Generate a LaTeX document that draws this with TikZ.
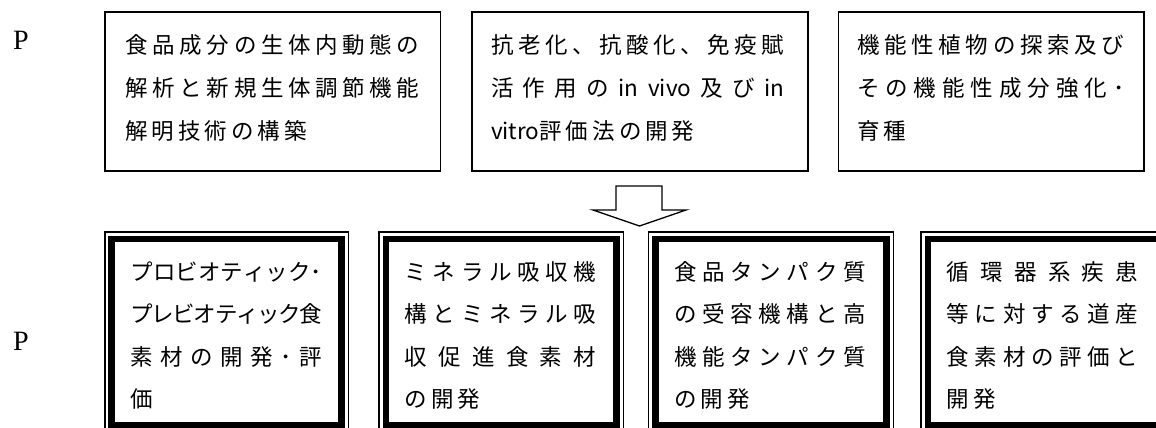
\documentclass[tikz,border=0pt]{standalone}
\usepackage{fontspec}
\setmainfont{Liberation Serif}
\newfontfamily\jpfont{Noto Sans CJK JP}
\usetikzlibrary{calc}
\makeatletter
\def\spr@endmark{\relax}
\newcommand\spreadit[1]{#1\spr@next}
\def\spr@next#1{\def\spr@tmp{#1}\ifx\spr@tmp\spr@endmark\else\sprglue#1\expandafter\spr@next\fi}
\newcommand\JL[2]{\makebox[#1pt][s]{\def\sprglue{\hskip 0pt plus 1fil minus 2pt}\spreadit#2\relax}\par}
\newcommand\NL[1]{\mbox{\def\sprglue{\hskip 4pt}\spreadit#1\relax}\par}
\makeatother
\begin{document}
\begin{tikzpicture}[x=1pt,y=-1pt,
  topbox/.style={draw, line width=1.6pt, inner sep=0pt, outer sep=0pt, anchor=north west, minimum height=159.2pt},
  botbox/.style={draw, line width=1.5pt, inner sep=0pt, outer sep=0pt, anchor=north west, minimum height=200pt},
  thickframe/.style={line width=6.8pt},
  toptext/.style={inner sep=0pt, anchor=base west, font=\jpfont\fontsize{22.5}{43.3}\selectfont},
  bottext/.style={inner sep=0pt, anchor=base west, font=\jpfont\fontsize{22.5}{42.5}\selectfont},
  plabel/.style={inner sep=0pt, anchor=base west, font=\fontsize{28}{30}\selectfont},
  blockarrow/.style={draw, line width=1.3pt, line join=miter, fill=white}]
\fill[white] (0,0) rectangle (1156,428);
\useasboundingbox (0,0) rectangle (1156,428);
\clip (0,0) rectangle (1156,428);

% P labels
\node[plabel] (p1) at (13,49.5) {P};
\node[plabel] (p2) at (13,350.5) {P};

% top boxes
\node[topbox, minimum width=335.7pt] (a1) at (104.8,11.8) {};
\node[topbox, minimum width=336pt] (a2) at (471.7,11.8) {};
\node[topbox, minimum width=305.4pt] (a3) at (838.3,11.8) {};

\node[toptext] (ta1) at ($(a1.north west)+(20.5,41.2)$) {\parbox[t]{300pt}{%
  \JL{294}{食品成分の生体内動態の}
  \JL{294}{解析と新規生体調節機能}
  \NL{解明技術の構築}}};
\node[toptext] (ta2) at ($(a2.north west)+(19.1,41.2)$) {\parbox[t]{300pt}{%
  \JL{293.5}{抗老化、抗酸化、免疫賦}
  \JL{293.5}{活作用の{in}{vivo}及び{in}}
  \NL{{vitro評}価法の開発}}};
\node[toptext] (ta3) at ($(a3.north west)+(18.5,41.2)$) {\parbox[t]{280pt}{%
  \JL{267.5}{機能性植物の探索及び}
  \JL{267.5}{その機能性成分強化･}
  \NL{育種}}};

% block arrow
\draw[blockarrow] (616,186) -- (662,186) -- (662,210) -- (686,210) -- (639.5,226) -- (593,210) -- (616,210) -- cycle;

% bottom boxes
\node[botbox, minimum width=243.5pt] (b1) at (104.8,232) {};
\node[botbox, minimum width=244.5pt] (b2) at (379,232) {};
\node[botbox, minimum width=245pt] (b3) at (648.5,232) {};
\node[botbox, minimum width=245pt] (b4) at (921,232) {};
\foreach \b in {b1,b2,b3,b4}{
  \draw[thickframe] ($(\b.north west)+(7,7)$) rectangle ($(\b.south east)+(-7,-7)$);
}

\node[bottext] (tb1) at ($(b1.north west)+(25.5,48)$) {\parbox[t]{200pt}{%
  \JL{191.5}{プロビオティック･}
  \JL{191.5}{プレビオティック食}
  \JL{191.5}{素材の開発･評}
  \NL{価}}};
\node[bottext] (tb2) at ($(b2.north west)+(25.5,48)$) {\parbox[t]{200pt}{%
  \JL{191.5}{ミネラル吸収機}
  \JL{191.5}{構とミネラル吸}
  \JL{191.5}{収促進食素材}
  \NL{の開発}}};
\node[bottext] (tb3) at ($(b3.north west)+(25.5,48)$) {\parbox[t]{200pt}{%
  \JL{191.5}{食品タンパク質}
  \JL{191.5}{の受容機構と高}
  \JL{191.5}{機能タンパク質}
  \NL{の開発}}};
\node[bottext] (tb4) at ($(b4.north west)+(25.5,48)$) {\parbox[t]{200pt}{%
  \JL{191.5}{循環器系疾患}
  \JL{191.5}{等に対する道産}
  \JL{191.5}{食素材の評価と}
  \NL{開発}}};
\end{tikzpicture}
\end{document}
